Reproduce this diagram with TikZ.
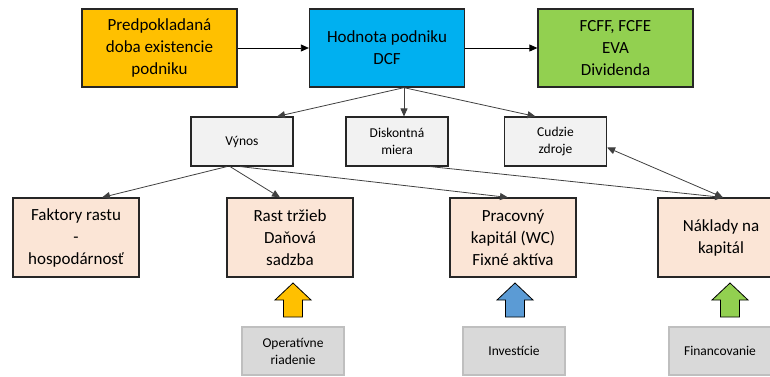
\documentclass[tikz,border=0pt]{standalone}
\usepackage{fontspec}
\setmainfont{Carlito}
\usetikzlibrary{arrows.meta}
\definecolor{zlta}{HTML}{FFC000}
\definecolor{modra}{HTML}{00B0F0}
\definecolor{zelena}{HTML}{92D050}
\definecolor{lososova}{HTML}{FBE5D6}
\definecolor{svetlosiva}{HTML}{F2F2F2}
\definecolor{siva}{HTML}{D9D9D9}
\definecolor{sivaram}{HTML}{BFBFBF}
\definecolor{modrasip}{HTML}{5B9BD5}
\definecolor{ciara}{HTML}{404040}

\begin{document}
\begin{tikzpicture}[x=1pt,y=-1pt,
        hlavny/.style={draw=black!85,line width=1.3pt,minimum width=155pt,minimum height=78pt,align=center,inner sep=2pt,font=\fontsize{17}{22}\selectfont},
        stredny/.style={draw=black!85,line width=1.1pt,fill=svetlosiva,minimum width=102pt,minimum height=49pt,align=center,inner sep=2pt,font=\fontsize{13.5}{17}\selectfont},
        faktor/.style={draw=black!85,line width=1.1pt,fill=lososova,minimum width=126pt,minimum height=79pt,align=center,inner sep=2pt,font=\fontsize{17}{22}\selectfont},
        zdroj/.style={draw=sivaram,line width=1.1pt,fill=siva,minimum width=102pt,minimum height=48pt,align=center,inner sep=2pt,font=\fontsize{13.5}{17}\selectfont},
        spoj/.style={draw=ciara,line width=0.8pt,-{Triangle[length=8pt,width=7pt]}}]
                \useasboundingbox (0,0) rectangle (770,376);
                \clip (0,0) rectangle (770,376);

                \node[hlavny,fill=zlta] (doba) at (159.5,48) {Predpokladaná\\doba existencie\\podniku};
                \node[hlavny,fill=modra] (hodnota) at (387,48) {Hodnota podniku\\DCF};
                \node[hlavny,fill=zelena] (ukazovatele) at (615.5,48) {FCFF, FCFE\\EVA\\Dividenda};

                \node[stredny] (vynos) at (242,141.5) {Výnos};
                \node[stredny] (diskont) at (397,141.5) {Diskontná\\miera};
                \node[stredny] (cudzie) at (555.5,141.5) {Cudzie\\zdroje};

                \node[faktor] (faktory) at (76,237.5) {Faktory rastu\\-\\hospodárnosť};
                \node[faktor] (rast) at (290,237.5) {Rast tržieb\\Daňová\\sadzba};
                \node[faktor] (kapital) at (513,237.5) {Pracovný\\kapitál (WC)\\Fixné aktíva};
                \node[faktor] (naklady) at (721,237.5) {Náklady na\\kapitál};

                \node[zdroj] (riadenie) at (293,351) {Operatívne\\riadenie};
                \node[zdroj] (investicie) at (514,351) {Investície};
                \node[zdroj] (financovanie) at (720,351) {Financovanie};

                \foreach \x/\farba in {293/zlta,515/modrasip,730/zelena}{
                    \draw[fill=\farba,line width=0.8pt] (\x-9.5,317) -- (\x-9.5,300) -- (\x-18,300) -- (\x,283) -- (\x+18,300) -- (\x+9.5,300) -- (\x+9.5,317) -- cycle;
                }

                \draw[spoj,draw=black] (doba.east) -- (hodnota.west);
                \draw[spoj,draw=black] (hodnota.east) -- (ukazovatele.west);
                \draw[spoj] ([xshift=17pt]hodnota.south) -- ([xshift=35pt]vynos.north);
                \draw[spoj] ([xshift=17pt]hodnota.south) -- ([xshift=7pt]diskont.north);
                \draw[spoj] ([xshift=17pt]hodnota.south) -- ([xshift=-20pt]cudzie.north);
                \draw[spoj] ([xshift=-15pt]vynos.south) -- ([xshift=26pt]faktory.north);
                \draw[spoj] ([xshift=-12pt]vynos.south) -- ([xshift=-10pt]rast.north);
                \draw[spoj] ([xshift=-2pt]vynos.south) -- ([xshift=-5pt]kapital.north);
                \draw[spoj] ([xshift=33pt]diskont.south) -- ([xshift=2pt]naklady.north);
                \draw[spoj,{Triangle[length=8pt,width=7pt]}-{Triangle[length=8pt,width=7pt]}] ([yshift=-6pt]cudzie.east) -- ([xshift=2pt]naklady.north);
            \end{tikzpicture}
\end{document}
